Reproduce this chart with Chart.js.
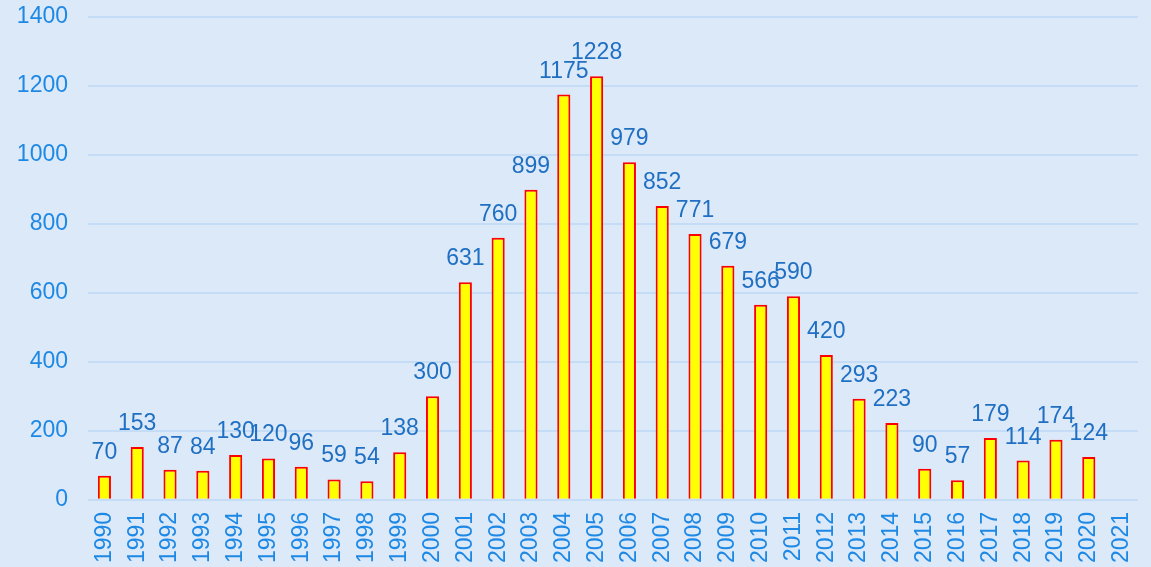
<!DOCTYPE html>
<html>
<head>
<meta charset="utf-8">
<script src="https://cdn.jsdelivr.net/npm/chart.js@4"></script>
<style>
  html, body { margin: 0; padding: 0; background: #dce9f9; }
  #chart { display: block; }
</style>
</head>
<body>
<canvas id="chart" width="1151" height="567"></canvas>
<script>
const years = ['1990','1991','1992','1993','1994','1995','1996','1997','1998','1999','2000','2001','2002','2003','2004','2005','2006','2007','2008','2009','2010','2011','2012','2013','2014','2015','2016','2017','2018','2019','2020','2021'];
const counts = [70,153,87,84,130,120,96,59,54,138,300,631,760,899,1175,1228,979,852,771,679,566,590,420,293,223,90,57,179,114,174,124,null];

// labels above each bar
const barLabels = {
  id: 'barLabels',
  afterDatasetsDraw(chart) {
    const ctx = chart.ctx;
    const meta = chart.getDatasetMeta(0);
    ctx.save();
    ctx.font = '23px "Liberation Sans", Arial, sans-serif';
    ctx.fillStyle = '#1f6fc2';
    ctx.textAlign = 'center';
    ctx.textBaseline = 'alphabetic';
    meta.data.forEach((bar, i) => {
      const v = counts[i];
      if (v == null) return;
      ctx.fillText(String(v), bar.x, bar.y - 17);
    });
    ctx.restore();
  }
};

// drop the extra room the scales ask for around the plot
function noPad(scale) {
  scale.paddingTop = 0;
  scale.paddingBottom = 0;
  scale.paddingLeft = 0;
  scale.paddingRight = 0;
}

const ctx = document.getElementById('chart').getContext('2d');
new Chart(ctx, {
  type: 'bar',
  data: {
    labels: years,
    datasets: [{
      data: counts,
      backgroundColor: '#ffff00',
      borderColor: '#ff0000',
      borderWidth: 2,
      barPercentage: 0.4,
      categoryPercentage: 1
    }]
  },
  options: {
    responsive: false,
    animation: false,
    layout: { padding: { top: 17, right: 13, left: 15, bottom: 0 } },
    plugins: {
      legend: { display: false },
      tooltip: { enabled: false }
    },
    scales: {
      x: {
        afterFit: noPad,
        grid: { display: false },
        border: { display: false },
        ticks: {
          color: '#1e88e5',
          font: { family: '"Liberation Sans", Arial, sans-serif', size: 23 },
          minRotation: 90,
          maxRotation: 90,
          autoSkip: false,
          padding: 4
        }
      },
      y: {
        afterFit(scale) {
          noPad(scale);
          scale.width = 73;
        },
        min: 0,
        max: 1400,
        grid: { color: '#c4dcf6', lineWidth: 2, drawTicks: false },
        border: { display: false },
        ticks: {
          stepSize: 200,
          color: '#1e88e5',
          font: { family: '"Liberation Sans", Arial, sans-serif', size: 23 },
          padding: 20,
          callback: (v) => String(v)
        }
      }
    }
  },
  plugins: [barLabels]
});
</script>
</body>
</html>
